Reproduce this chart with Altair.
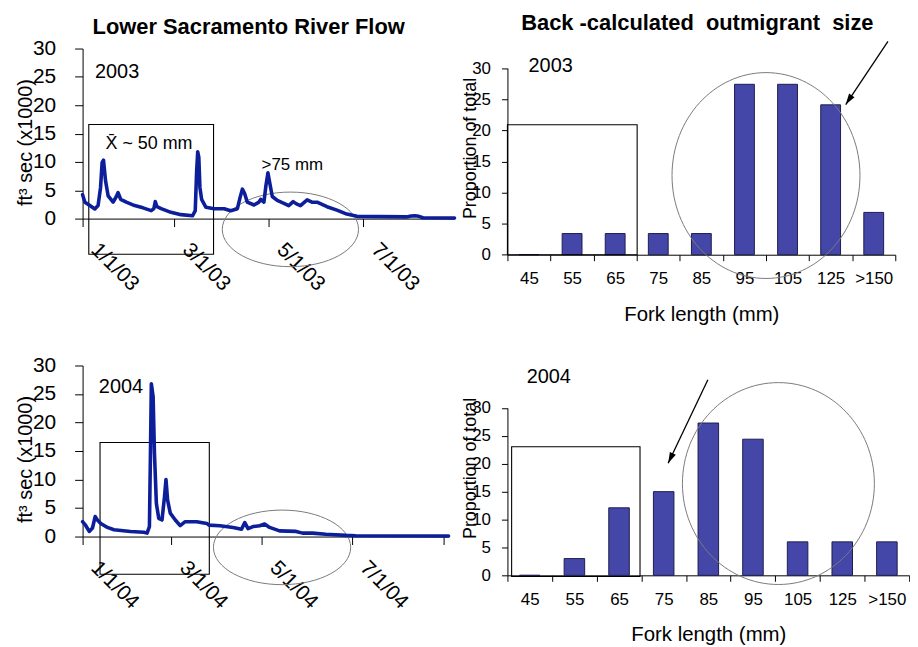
import altair as alt
import pandas as pd

FONT = "Liberation Sans"
LINE_COLOR = "#0C1E9A"
BAR_COLOR = "#4547A8"
BAR_EDGE = "#1D1D4D"

# ---------------- data ----------------
# Lower Sacramento River flow, 2003 (days after 1/1/03, flow in 1000 cfs)
days_2003 = [0, 1.5, 4.7, 7.9, 10, 11.6, 12.6, 13.5, 14.8, 16.5, 19.7, 21.8, 22.9, 24.6, 28.2,
             33.6, 39, 44.3, 46, 46.9, 48, 50.7, 57, 63.5, 71, 72.7, 73.6, 74.3, 75, 75.7,
             76.8, 79.6, 84.9, 91.3, 95.6, 99.9, 101.6, 103.1, 104.6, 106.3, 110.6, 113.8, 114.9, 117, 118.3,
             119.6, 120.9, 122.4, 125.6, 129.9, 133, 135.9, 138, 140.6, 144.9, 148, 151.3, 157.7, 164.1, 170.5,
             177, 192, 209, 212, 214.4, 217, 219.7, 240]
flow_2003 = [4.2, 2.9, 2.3, 1.7, 2.3, 5.5, 9.9, 10.3, 6.7, 4.0, 2.9, 3.9, 4.6, 3.4, 2.9,
             2.3, 1.9, 1.4, 1.75, 3.0, 2.1, 1.75, 1.1, 0.7, 0.5, 1.4, 8.4, 11.8, 10.8, 5.5,
             3.4, 2.0, 1.75, 1.75, 1.4, 1.75, 3.7, 5.2, 4.4, 2.9, 2.4, 2.9, 3.4, 2.9, 5.8,
             8.1, 6.1, 3.9, 3.2, 2.7, 2.3, 3.0, 2.6, 2.3, 3.3, 2.9, 2.9, 2.1, 1.5, 0.8,
             0.4, 0.35, 0.3, 0.45, 0.5, 0.4, 0.15, 0.1]

# Lower Sacramento River flow, 2004 (days after 1/1/04)
days_2004 = [0, 2.2, 4.5, 6.7, 8.5, 10, 12.3, 16.8, 21.2, 32.4, 41.4, 43.6, 45.2, 45.9, 46.5,
             47.7, 48.6, 49.9, 51.5, 53.7, 55.4, 56.4, 57.5, 59.3, 62.7, 66, 69.4, 77.2, 84, 85.5,
             92.9, 101.8, 107.5, 109.7, 111.9, 115.3, 119.8, 123.1, 126.5, 133.2, 144.4, 148.8, 155.5, 164.5, 178,
             184.7, 247.5]
flow_2004 = [2.6, 1.9, 0.9, 1.5, 3.5, 2.9, 2.3, 1.6, 1.2, 0.9, 0.75, 0.6, 1.75, 14.6, 26.8,
             24.5, 14.6, 5.8, 3.2, 2.9, 7.0, 10.0, 6.4, 4.1, 2.9, 1.9, 2.6, 2.6, 2.3, 2.0,
             1.9, 1.6, 1.3, 2.45, 1.4, 1.75, 1.9, 2.2, 1.6, 1.0, 0.9, 0.6, 0.6, 0.4, 0.2,
             0.15, 0.1]

# Back-calculated outmigrant size (proportion of total, %)
size_classes = ["45", "55", "65", "75", "85", "95", "105", "125", ">150"]
prop_2003 = [0, 3.4, 3.4, 3.4, 3.4, 27.4, 27.4, 24.1, 6.8]
prop_2004 = [0, 3.0, 12.1, 15.0, 27.3, 24.4, 6.0, 6.0, 6.0]

# tick values / labels
axis_ticks = [0, 5, 10, 15, 20, 25, 30]
date_ticks_2003 = [0, 59, 120, 181]
date_labels_2003 = ["1/1/03", "3/1/03", "5/1/03", "7/1/03"]
date_ticks_2004 = [0, 60, 121, 182, 244]
date_labels_2004 = ["1/1/04", "3/1/04", "5/1/04", "7/1/04", ""]

# ---------------- annotations (data units) ----------------
notes_2003 = {"text": ["2003", "X\u0304 ~ 50 mm", ">75 mm"], "x": [8.0, 14.8, 115.5],
              "y": [25.8, 13.2, 9.5], "fs": [20, 18, 17]}
notes_2004 = {"text": ["2004"], "x": [11.0], "y": [26.3], "fs": [20]}
box_2003 = [4.0, 84.5, -6.3, 16.6]
box_2004 = [11.8, 85.7, -6.6, 16.5]
ring_2003 = [134.1, -1.9]
ring_2004 = [134.9, -1.9]

bar_note_2003 = {"text": ["2003"], "x": [0.49], "y": [30.4], "fs": [20]}
bar_note_2004 = {"text": ["2004"], "x": [0.43], "y": [35.5], "fs": [20]}
bar_box_2003 = [0.0, 3.01, 0.0, 20.9]
bar_box_2004 = [0.094, 2.97, -0.2, 23.05]
bar_ring_2003 = [6.0, 12.73]
bar_ring_2004 = [6.07, 16.45]
arrow_2003 = [8.83, 34.3, 7.85, 24.15]
arrow_2004 = [4.49, 35.06, 3.60, 20.1]


def label_expr(values, labels):
    expr = "''"
    for v, lab in reversed(list(zip(values, labels))):
        expr = f"datum.value == {v} ? '{lab}' : ({expr})"
    return expr


def ellipse_shape(w, h):
    r = h / w
    return f"M -1 0 A 1 {r:.4f} 0 1 0 1 0 A 1 {r:.4f} 0 1 0 -1 0 Z"


ARROW_HEAD = "M 0 0 L -0.3 1 L 0.3 1 Z"


def annotations(xs, ys, x_axis, y_axis, box, ring, ring_w, ring_h, notes):
    box_df = pd.DataFrame({"x": [box[0]], "x2": [box[1]], "y": [box[2]], "y2": [box[3]]})
    rect = alt.Chart(box_df).mark_rect(fillOpacity=0, stroke="black", strokeWidth=1.1).encode(
        x=alt.X("x:Q", scale=xs, axis=x_axis), x2="x2:Q",
        y=alt.Y("y:Q", scale=ys, axis=y_axis), y2="y2:Q")
    ring_df = pd.DataFrame({"x": [ring[0]], "y": [ring[1]]})
    ell = alt.Chart(ring_df).mark_point(shape=ellipse_shape(ring_w, ring_h), size=ring_w * ring_w,
                                        filled=False, color="#7a7a7a", strokeWidth=1, opacity=1).encode(
        x=alt.X("x:Q", scale=xs, axis=x_axis), y=alt.Y("y:Q", scale=ys, axis=y_axis))
    txt = alt.Chart(pd.DataFrame(notes)).mark_text(align="left", baseline="middle", color="black", font=FONT).encode(
        x=alt.X("x:Q", scale=xs, axis=x_axis), y=alt.Y("y:Q", scale=ys, axis=y_axis),
        text="text:N", size=alt.Size("fs:Q", scale=None, legend=None))
    return rect, ell, txt


def flow_panel(days, flow, ticks, labels, x_max, width, height, box, ring, ring_w, ring_h, notes, title=None):
    xs = alt.Scale(domain=[0, x_max], nice=False, zero=False)
    ys = alt.Scale(domain=[0, 30], nice=False)
    x_axis = alt.Axis(values=ticks, labelExpr=label_expr(ticks, labels), labelAngle=45, labelAlign="left",
                      labelBaseline="top", labelFontSize=21, labelPadding=12, labelOffset=19, labelFlush=False,
                      labelOverlap=False, tickSize=8, title=None, grid=False)
    y_axis = alt.Axis(values=axis_ticks, tickSize=8, labelFontSize=21, labelPadding=19, grid=False,
                      title="ft\u00b3 sec (x1000)", titleFontSize=20, titleFontWeight="normal",
                      titleX=-51, titleY=94, titleBaseline="alphabetic", titleAlign="center")
    df = pd.DataFrame({"day": days, "flow": flow})
    line = alt.Chart(df).mark_line(color=LINE_COLOR, strokeWidth=3.6, strokeJoin="round", strokeCap="round").encode(
        x=alt.X("day:Q", scale=xs, axis=x_axis),
        y=alt.Y("flow:Q", scale=ys, axis=y_axis))
    rect, ell, txt = annotations(xs, ys, x_axis, y_axis, box, ring, ring_w, ring_h, notes)
    ch = alt.layer(rect, ell, line, txt).properties(width=width, height=height)
    if title is not None:
        ch = ch.properties(title=title)
    return ch


def bar_panel(props, width, height, y_bottom, y_top, title_y, box, ring, ring_w, ring_h, arrow, arrow_angle,
              notes, title=None):
    ys = alt.Scale(domain=[0, 30], range=[y_bottom, y_top], nice=False)
    xs = alt.Scale(domain=[0, 9], nice=False, zero=False)
    y_axis = alt.Axis(values=axis_ticks, tickSize=6, labelFontSize=17, labelPadding=11, grid=False,
                      title="Proportion of total", titleFontSize=18, titleFontWeight="normal",
                      titleX=-32, titleY=title_y, titleBaseline="alphabetic", titleAlign="center")
    df = pd.DataFrame({"size": size_classes, "prop": props})
    bars = alt.Chart(df).mark_bar(width=alt.RelativeBandSize(0.46), color=BAR_COLOR, stroke=BAR_EDGE,
                                  strokeWidth=1).encode(
        x=alt.X("size:N", sort=size_classes, scale=alt.Scale(paddingInner=0, paddingOuter=0),
                axis=alt.Axis(tickBand="extent", labelAngle=0, labelFontSize=17, labelPadding=10, tickSize=6,
                              title="Fork length (mm)", titleFontSize=20.5, titleFontWeight="normal",
                              titlePadding=18, grid=False)),
        y=alt.Y("prop:Q", scale=ys, axis=y_axis))
    rect, ell, txt = annotations(xs, ys, None, y_axis, box, ring, ring_w, ring_h, notes)
    arr_df = pd.DataFrame({"x": [arrow[0]], "y": [arrow[1]], "x2": [arrow[2]], "y2": [arrow[3]]})
    shaft = alt.Chart(arr_df).mark_rule(color="black", strokeWidth=1.3).encode(
        x=alt.X("x:Q", scale=xs, axis=None), y=alt.Y("y:Q", scale=ys, axis=y_axis), x2="x2:Q", y2="y2:Q")
    head = alt.Chart(arr_df).mark_point(shape=ARROW_HEAD, size=484, filled=True, color="black", opacity=1,
                                        angle=arrow_angle).encode(
        x=alt.X("x2:Q", scale=xs, axis=None), y=alt.Y("y2:Q", scale=ys, axis=y_axis))
    ch = alt.layer(bars, rect, ell, shaft, head, txt).resolve_scale(x="independent").properties(
        width=width, height=height)
    if title is not None:
        ch = ch.properties(title=title)
    return ch


title_left = alt.TitleParams(text="Lower Sacramento River Flow", fontSize=22, fontWeight="bold", font=FONT,
                             anchor="middle", frame="group", dx=-20, offset=-1, color="black")
title_right = alt.TitleParams(text="Back\u00a0-calculated\u00a0\u00a0outmigrant\u00a0\u00a0size", fontSize=22,
                              fontWeight="bold", font=FONT, anchor="middle", frame="group", dx=-4, offset=6,
                              color="black")

tl = flow_panel(days_2003, flow_2003, date_ticks_2003, date_labels_2003, 240, 374, 171,
                box_2003, ring_2003, 137, 75, notes_2003, title_left)
bl = flow_panel(days_2004, flow_2004, date_ticks_2004, date_labels_2004, 247.5, 368, 172,
                box_2004, ring_2004, 138, 75, notes_2004)
tr = bar_panel(prop_2003, 390, 207.3, 207.3, 19.7, 100, bar_box_2003, bar_ring_2003, 189, 207, arrow_2003, 213.7,
               bar_note_2003, title_right)
br = bar_panel(prop_2004, 404, 211, 211, 42.7, 103, bar_box_2004, bar_ring_2004, 193, 203, arrow_2004, 205.5,
               bar_note_2004)

chart = alt.concat(tl, tr, bl, br, columns=2, bounds="flush", align="each",
                   spacing={"row": 110.7, "column": 53.2}).properties(
    padding={"left": 8, "top": 2, "right": 0, "bottom": 0}
).configure(font=FONT).configure_view(strokeWidth=0).configure_axis(
    domainColor="black", tickColor="black", labelColor="black", titleColor="black",
    labelFont=FONT, titleFont=FONT)

chart.save("out.html", embed_options={"renderer": "svg", "actions": False})
